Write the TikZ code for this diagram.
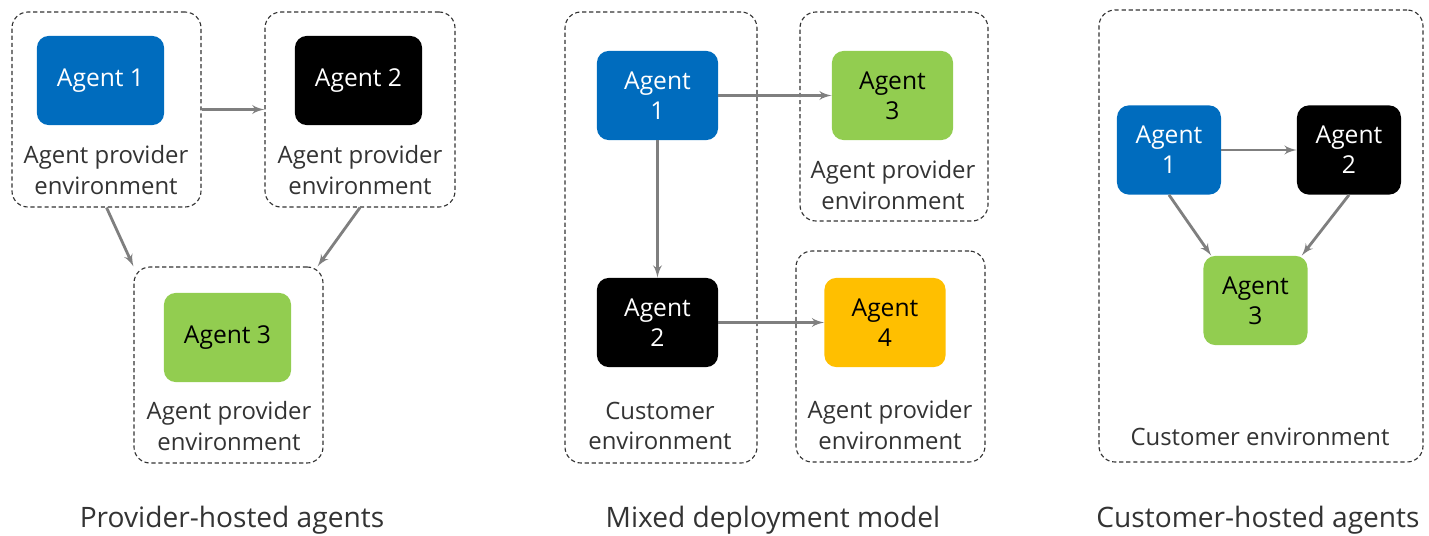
\documentclass[tikz,border=0pt]{standalone}
\usepackage{fontspec}
\setmainfont{Open Sans}
\usetikzlibrary{arrows, fit}
\definecolor{agentblue}{HTML}{006CBE}
\definecolor{agentgreen}{HTML}{92CD50}
\definecolor{agentyellow}{HTML}{FFBF00}
\definecolor{linkgray}{HTML}{7F7F7F}
\definecolor{txtgray}{HTML}{333333}
\tikzstyle{agent} = [rectangle, rounded corners=0.3cm, minimum height=2.23cm,
    align=center, font=\fontsize{17.5}{21.5}\selectfont]
\tikzstyle{env} = [rectangle, draw=txtgray, dash pattern=on 3pt off 2pt,
    line width=0.8pt, rounded corners=0.4cm, inner sep=0pt]
\begin{document}
\begin{tikzpicture}[
x = 0.025cm, y = -0.025cm,
envtext/.style = {align=center, text=txtgray, font=\fontsize{17}{21.5}\selectfont},
caption/.style = {text=txtgray, font=\fontsize{20}{24}\selectfont},
link/.style = {draw=linkgray, line width=2pt, -latex'},
wide/.style = {minimum width=3.18cm},
mid/.style = {minimum width=3.03cm},
slim/.style = {minimum width=2.6cm}
                        ]
\useasboundingbox (0,0) rectangle (1429,536);
% provider-hosted
\node [env, fit={(12,12) (201,207)}] (pe1) {};
\node [env, fit={(265,12) (455,207)}] (pe2) {};
\node [env, fit={(134,267) (323,463)}] (pe3) {};
\node [agent, wide, fill=agentblue, text=white] (pa1) at (100.5,80.5) {Agent 1};
\node [agent, wide, fill=black, text=white] (pa2) at (358.5,80.5) {Agent 2};
\node [agent, wide, fill=agentgreen] (pa3) at (227.5,337.5) {Agent 3};
\node [envtext] (pt1) at (106,170) {Agent provider\\environment};
\node [envtext] (pt2) at (360,170) {Agent provider\\environment};
\node [envtext] (pt3) at (229,426) {Agent provider\\environment};
\draw [link] (pe1.east) -- (pe2.west);
\draw [link] (pe1.south) -- (pe3.north west);
\draw [link] (pe2.south) -- ([xshift=-0.15cm]pe3.north east);
\node [caption] (pcap) at (232,520) {Provider-hosted agents};
% mixed deployment
\node [env, fit={(565,12) (757,463)}] (me1) {};
\node [env, fit={(800,12) (988,221)}] (me2) {};
\node [env, fit={(796,251) (985,462)}] (me3) {};
\node [agent, mid, fill=agentblue, text=white] (ma1) at (657.5,95.5) {Agent\\1};
\node [agent, mid, fill=black, text=white] (ma2) at (657.5,322.5) {Agent\\2};
\node [agent, mid, fill=agentgreen] (ma3) at (892.5,95.5) {Agent\\3};
\node [agent, mid, fill=agentyellow] (ma4) at (885,322.5) {Agent\\4};
\node [envtext] (mt1) at (660,426) {Customer\\environment};
\node [envtext] (mt2) at (893,185) {Agent provider\\environment};
\node [envtext] (mt3) at (890,425) {Agent provider\\environment};
\draw [link] (ma1.east) -- (ma3.west);
\draw [link] (ma1.south) -- (ma2.north);
\draw [link] (ma2.east) -- (ma4.west);
\node [caption] (mcap) at (773,520) {Mixed deployment model};
% customer-hosted
\node [env, fit={(1099,10) (1423,462)}] (ce1) {};
\node [agent, slim, fill=agentblue, text=white] (ca1) at (1169,150) {Agent\\1};
\node [agent, slim, fill=black, text=white] (ca2) at (1349,150) {Agent\\2};
\node [agent, slim, fill=agentgreen] (ca3) at (1255.5,300.5) {Agent\\3};
\node [envtext] (ct1) at (1260,437) {Customer environment};
\draw [link] (ca1.east) -- (ca2.west);
\draw [link] (ca1.south) -- ([xshift=0.2cm]ca3.north west);
\draw [link] (ca2.south) -- ([xshift=-0.15cm]ca3.north east);
\node [caption] (ccap) at (1258,520) {Customer-hosted agents};
\end{tikzpicture}
\end{document}
